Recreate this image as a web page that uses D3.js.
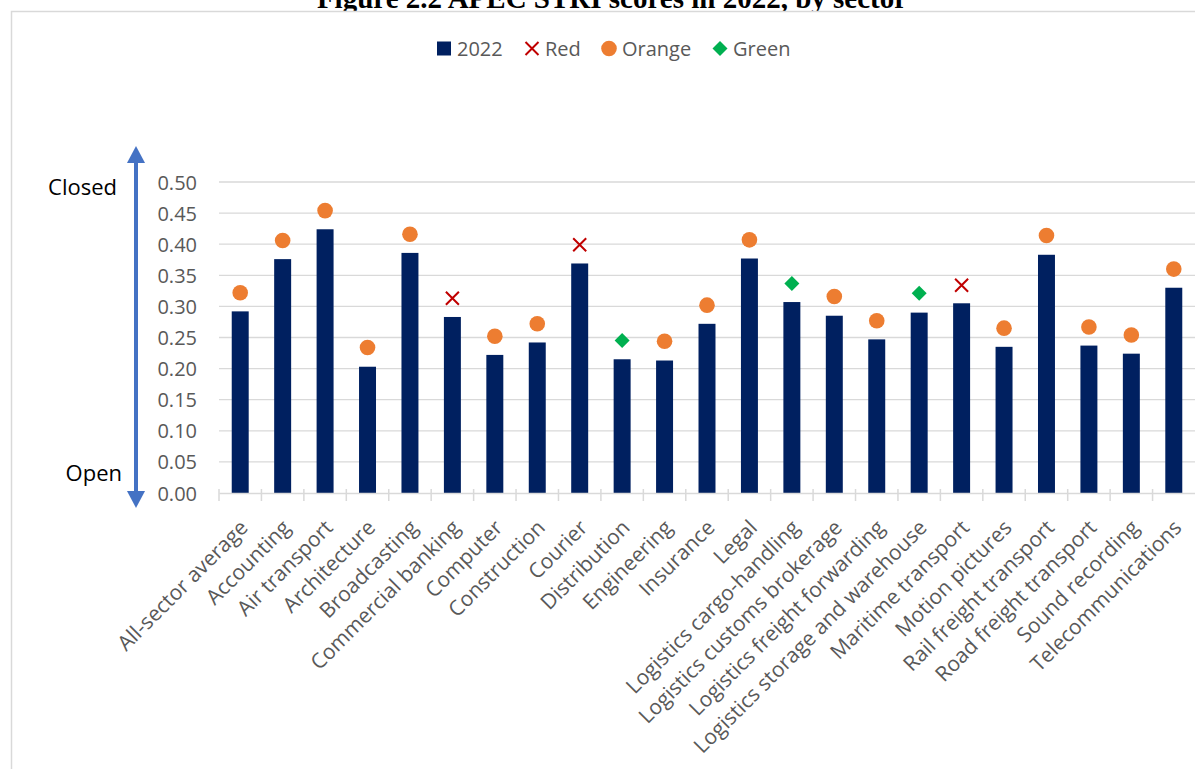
<!DOCTYPE html>
<html>
<head>
<meta charset="utf-8">
<script src="https://cdn.jsdelivr.net/npm/d3@7"></script>
<style>
  html, body { margin: 0; padding: 0; background: #fff; }
  svg { display: block; }
</style>
</head>
<body>
<svg id="chart" width="1195" height="769"></svg>
<script>
const categories = [
  "All-sector average", "Accounting", "Air transport", "Architecture", "Broadcasting",
  "Commercial banking", "Computer", "Construction", "Courier", "Distribution",
  "Engineering", "Insurance", "Legal", "Logistics cargo-handling",
  "Logistics customs brokerage", "Logistics freight forwarding",
  "Logistics storage and warehouse", "Maritime transport", "Motion pictures",
  "Rail freight transport", "Road freight transport", "Sound recording", "Telecommunications"
];
const values2022 = [
  0.292, 0.376, 0.424, 0.203, 0.386, 0.283, 0.222, 0.242, 0.369, 0.215,
  0.213, 0.272, 0.377, 0.307, 0.285, 0.247, 0.290, 0.305, 0.235, 0.383,
  0.237, 0.224, 0.330
];
// marker value and its colour class for each sector
const markerValues = [
  0.322, 0.406, 0.454, 0.234, 0.416, 0.313, 0.252, 0.272, 0.399, 0.245,
  0.244, 0.302, 0.407, 0.337, 0.316, 0.277, 0.321, 0.334, 0.265, 0.414,
  0.267, 0.254, 0.360
];
const markerClass = [
  "Orange", "Orange", "Orange", "Orange", "Orange", "Red", "Orange", "Orange", "Red", "Green",
  "Orange", "Orange", "Orange", "Green", "Orange", "Orange", "Green", "Red", "Orange", "Orange",
  "Orange", "Orange", "Orange"
];
const yTicks = [0, 0.05, 0.10, 0.15, 0.20, 0.25, 0.30, 0.35, 0.40, 0.45, 0.50];
const legendLabels = ["2022", "Red", "Orange", "Green"];
const titleText = "Figure 2.2 APEC STRI scores in 2022, by sector";

const COLORS = { bar: "#002060", Red: "#C00000", Orange: "#ED7D31", Green: "#00B050" };
const FONT = "'Open Sans', 'Liberation Sans', sans-serif";
const GRID = "#d9d9d9";
const TEXT = "#595959";

const svg = d3.select("#chart");

// Title (partly cut off at top, as in the source)
svg.append("text")
  .attr("x", 612).attr("y", 7.5)
  .attr("text-anchor", "middle")
  .attr("font-family", "'Liberation Serif', 'Times New Roman', serif")
  .attr("font-weight", "bold").attr("font-size", 29)
  .attr("fill", "#000")
  .text(titleText);

// Frame
svg.append("rect")
  .attr("x", 11.5).attr("y", 11.5).attr("width", 1200).attr("height", 800)
  .attr("fill", "#fff").attr("stroke", GRID).attr("stroke-width", 1.5);

const x = d3.scaleBand().domain(categories).range([219, 1195]).paddingInner(0.6).paddingOuter(0.3);
const y = d3.scaleLinear().domain([0, 0.5]).range([493, 182]);

// gridlines
svg.append("g").selectAll("line").data(yTicks.filter(d => d > 0)).join("line")
  .attr("x1", 219).attr("x2", 1195)
  .attr("y1", d => y(d)).attr("y2", d => y(d))
  .attr("stroke", GRID).attr("stroke-width", 1.3);

// y axis labels
const yAxis = d3.axisLeft(y).tickValues(yTicks).tickFormat(d3.format(".2f")).tickSize(0).tickPadding(0);
const yg = svg.append("g").attr("transform", "translate(197,0)").call(yAxis);
yg.select(".domain").remove();
yg.selectAll("text").attr("font-family", FONT).attr("font-size", 20).attr("fill", TEXT).attr("dy", "0.35em");

// bars
svg.append("g").selectAll("rect").data(categories).join("rect")
  .attr("x", d => x(d)).attr("width", x.bandwidth())
  .attr("y", (d, i) => y(values2022[i]))
  .attr("height", (d, i) => y(0) - y(values2022[i]))
  .attr("fill", COLORS.bar);

// x axis baseline + ticks
const xAxis = d3.axisBottom(x).tickSize(0).tickFormat("");
const xg = svg.append("g").attr("transform", `translate(0,${y(0)})`).call(xAxis);
xg.select(".domain").attr("stroke", GRID).attr("stroke-width", 1.5);
const boundaries = categories.map(c => x(c) - x.step() * x.paddingInner() / 2);
xg.selectAll(".bt").data(boundaries).join("line").attr("class", "bt")
  .attr("x1", d => d).attr("x2", d => d).attr("y1", -4).attr("y2", 8)
  .attr("stroke", GRID).attr("stroke-width", 1.5);

// x labels rotated
svg.append("g").selectAll("text").data(categories).join("text")
  .attr("transform", d => `translate(${x(d) + x.bandwidth() / 2 + 9},${529}) rotate(-45)`)
  .attr("text-anchor", "end")
  .attr("font-family", FONT).attr("font-size", 21).attr("fill", TEXT)
  .text(d => d);

// markers
const mg = svg.append("g");
function drawMarker(g, type, cx, cy) {
  if (type === "Orange") {
    g.append("circle").attr("cx", cx).attr("cy", cy).attr("r", 7.8).attr("fill", COLORS.Orange);
  } else if (type === "Red") {
    const s = 6.5;
    g.append("path").attr("d", `M${cx - s},${cy - s}L${cx + s},${cy + s}M${cx - s},${cy + s}L${cx + s},${cy - s}`)
      .attr("stroke", COLORS.Red).attr("stroke-width", 2).attr("fill", "none");
  } else {
    const s = 7.5;
    g.append("path").attr("d", `M${cx},${cy - s}L${cx + s},${cy}L${cx},${cy + s}L${cx - s},${cy}Z`)
      .attr("fill", COLORS.Green);
  }
}
categories.forEach((c, i) => {
  drawMarker(mg, markerClass[i], x(c) + x.bandwidth() / 2, y(markerValues[i]));
});

// Open/Closed arrow
const arrowX = 136;
const ag = svg.append("g");
ag.append("line").attr("x1", arrowX).attr("x2", arrowX).attr("y1", 160).attr("y2", 494)
  .attr("stroke", "#4472C4").attr("stroke-width", 4);
ag.append("path").attr("d", `M${arrowX},146L${arrowX + 9},163L${arrowX - 9},163Z`).attr("fill", "#4472C4");
ag.append("path").attr("d", `M${arrowX},508L${arrowX + 9},491L${arrowX - 9},491Z`).attr("fill", "#4472C4");
ag.append("text").attr("x", 117).attr("y", 187).attr("dy", "0.35em").attr("text-anchor", "end")
  .attr("font-family", FONT).attr("font-size", 22).attr("fill", "#000").text("Closed");
ag.append("text").attr("x", 122).attr("y", 473).attr("dy", "0.35em").attr("text-anchor", "end")
  .attr("font-family", FONT).attr("font-size", 22).attr("fill", "#000").text("Open");

// Legend
const legendPos = [
  { mx: 444, tx: 457 },
  { mx: 532, tx: 545 },
  { mx: 609, tx: 622 },
  { mx: 720, tx: 733 }
];
const lg = svg.append("g");
const ly = 48.5;
legendLabels.forEach((lab, i) => {
  const p = legendPos[i];
  if (i === 0) {
    lg.append("rect").attr("x", p.mx - 7).attr("y", ly - 7).attr("width", 14).attr("height", 14).attr("fill", COLORS.bar);
  } else {
    drawMarker(lg, lab, p.mx, ly);
  }
  lg.append("text").attr("x", p.tx).attr("y", ly).attr("dy", "0.35em")
    .attr("font-family", FONT).attr("font-size", 20).attr("fill", TEXT).text(lab);
});
</script>
</body>
</html>
